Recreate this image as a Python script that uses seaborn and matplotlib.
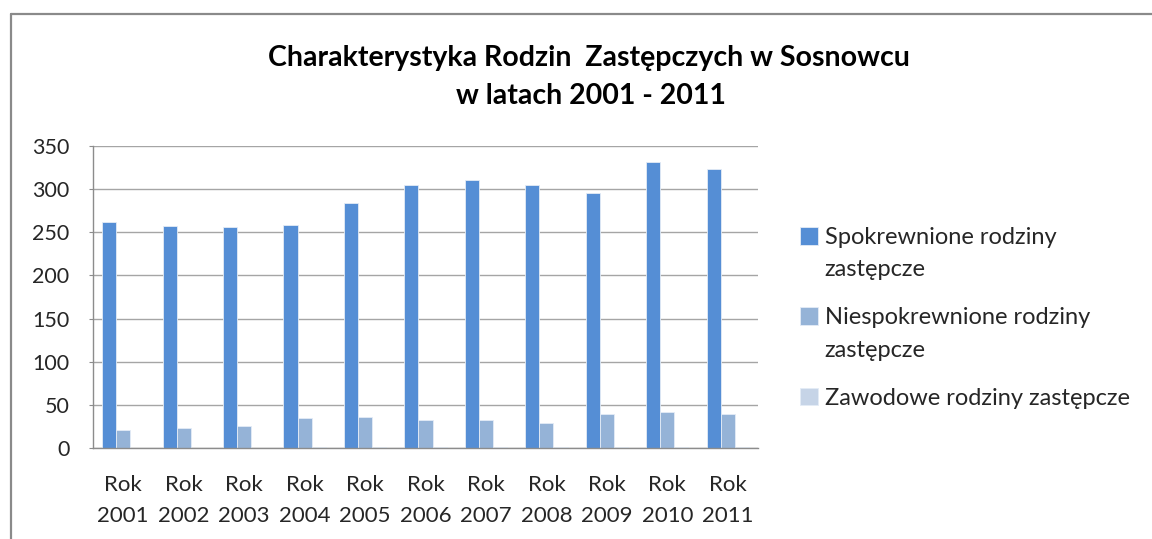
import pandas as pd
import seaborn as sns
import matplotlib.pyplot as plt

# dane
lata = ['2001', '2002', '2003', '2004', '2005', '2006', '2007', '2008', '2009', '2010', '2011']
spokrewnione = [262, 257, 256, 259, 284, 305, 311, 305, 295, 332, 323]
niespokrewnione = [21, 23, 26, 35, 36, 33, 32, 29, 39, 42, 39]
zawodowe = [0, 0, 0, 1, 1, 1, 1, 1, 1, 1, 1]
serie = ['Spokrewnione rodziny zastępcze',
         'Niespokrewnione rodziny zastępcze',
         'Zawodowe rodziny zastępcze']
etykiety_legendy = ['Spokrewnione rodziny\nzastępcze',
                    'Niespokrewnione rodziny\nzastępcze',
                    'Zawodowe rodziny zastępcze']
kolory = ['#558ED5', '#95B3D7', '#C6D4E7']

rok_labels = [f'Rok\n{r}' for r in lata]

df = pd.DataFrame({
    'rok': rok_labels * 3,
    'seria': [serie[0]] * 11 + [serie[1]] * 11 + [serie[2]] * 11,
    'wartosc': spokrewnione + niespokrewnione + zawodowe,
})

sns.set_style('white')
plt.rcParams['font.family'] = ['Lato', 'DejaVu Sans']

fig = plt.figure(figsize=(11.52, 5.39), dpi=100)
ax = fig.add_axes([93 / 1152, 1 - 448 / 539, (758 - 93) / 1152, (448 - 146) / 539])

sns.barplot(data=df, x='rok', y='wartosc', hue='seria', hue_order=serie,
            palette=kolory, saturation=1, width=0.7, edgecolor='#E4ECF6', linewidth=0.6, ax=ax)

ax.set_ylim(0, 350)
ax.set_xlim(-0.5, 10.5)
ax.set_yticks(range(0, 351, 50))
ax.set_xticks(range(len(rok_labels)), rok_labels, linespacing=1.7)
ax.set_xlabel('')
ax.set_ylabel('')
ax.yaxis.grid(True, color='#A5A5A5', linewidth=1.0)
ax.set_axisbelow(True)
for s in ['top', 'right']:
    ax.spines[s].set_visible(False)
for s in ['left', 'bottom']:
    ax.spines[s].set_color('#8C8C8C')
    ax.spines[s].set_linewidth(1.0)
ax.tick_params(axis='y', left=True, length=3, color='#8C8C8C', pad=14, labelsize=15.5, labelcolor='#262626')
ax.tick_params(axis='x', bottom=False, pad=16, labelsize=16, labelcolor='#262626')

# legenda
handles, _ = ax.get_legend_handles_labels()
ax.get_legend().remove()
leg = fig.legend(handles, etykiety_legendy, loc='center left', bbox_to_anchor=(800 / 1152, 1 - 318 / 539),
                 frameon=False, fontsize=17, handlelength=0.75, handleheight=0.75,
                 handletextpad=0.3, labelspacing=1.15, borderpad=0, borderaxespad=0)
for t in leg.get_texts():
    t.set_linespacing(1.65)
    t.set_color('#262626')
# kwadraty przy pierwszej linii opisu
for kolumna in leg._legend_handle_box.get_children():
    for wpis in kolumna.get_children():
        wpis.align = 'top'

# tytul
fig.text(0.511, 1 - 58 / 539, 'Charakterystyka Rodzin  Zastępczych w Sosnowcu',
         ha='center', va='center', fontsize=20.5, fontweight='bold', color='black')
fig.text(0.513, 1 - 96 / 539, 'w latach 2001 - 2011',
         ha='center', va='center', fontsize=20.5, fontweight='bold', color='black')

# ramka wykresu
fig.add_artist(plt.Line2D([11 / 1152, 1], [1 - 14 / 539, 1 - 14 / 539], color='#8A8A8A', linewidth=1.6))
fig.add_artist(plt.Line2D([11 / 1152, 11 / 1152], [0, 1 - 14 / 539], color='#8A8A8A', linewidth=1.6))

fig.savefig('out.png', dpi=100)
